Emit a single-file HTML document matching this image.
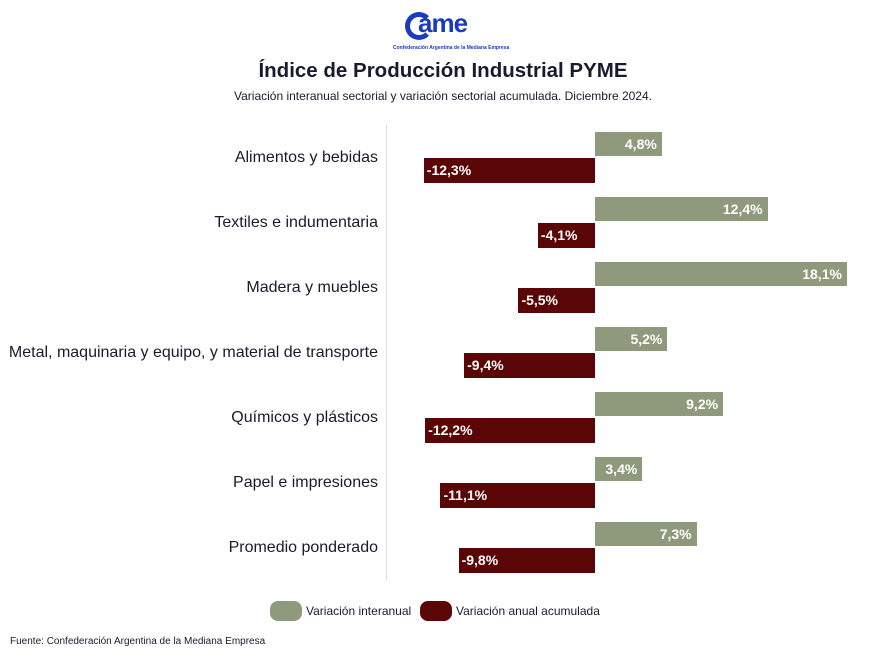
<!DOCTYPE html><html><head><meta charset="utf-8"><style>
body{margin:0;width:886px;height:658px;background:#fff;font-family:"Liberation Sans",sans-serif;position:relative;overflow:hidden}
.a{position:absolute}
.lab{position:absolute;right:508px;font-size:16px;color:#1a1a2e;white-space:nowrap;transform:translateY(-50%)}
.g{position:absolute;background:#8e9a7b;height:24px;color:#fff;font-weight:bold;font-size:14px;line-height:24px;text-align:right;box-sizing:border-box;padding-right:5px}
.r{position:absolute;background:#5a0506;height:25px;color:#fff;font-weight:bold;font-size:14px;line-height:25px;box-sizing:border-box;padding-left:3px}
</style></head><body>
<div class="a" style="left:405px;top:12px;width:28px;height:28px;border-radius:50%;border:5px solid #1a3bbf;border-right-color:transparent;box-sizing:border-box"></div>
<div class="a" style="left:418px;top:8px;font-size:26px;font-weight:bold;color:#1a3bbf;letter-spacing:-1px">ame</div>
<div class="a" style="left:393px;top:45px;font-size:5px;font-weight:bold;color:#1a3bbf">Confederación Argentina de la Mediana Empresa</div>
<div class="a" style="left:0;width:886px;top:59px;text-align:center;font-size:20.5px;font-weight:bold;color:#1a1a2e">Índice de Producción Industrial PYME</div>
<div class="a" style="left:0;width:886px;top:89px;text-align:center;font-size:12px;color:#1a1a2e">Variación interanual sectorial y variación sectorial acumulada. Diciembre 2024.</div>
<div class="a" style="left:386px;top:125px;width:1px;height:455px;background:#ddd"></div>
<div id="c"></div>
<script>
var d=[["Alimentos y bebidas",4.8,-12.3],["Textiles e indumentaria",12.4,-4.1],["Madera y muebles",18.1,-5.5],["Metal, maquinaria y equipo, y material de transporte",5.2,-9.4],["Químicos y plásticos",9.2,-12.2],["Papel e impresiones",3.4,-11.1],["Promedio ponderado",7.3,-9.8]];
var h="",s=13.92;
d.forEach(function(r,i){var y=132+65*i;
h+='<div class="lab" style="top:'+(y+26)+'px">'+r[0]+'</div>';
var w=r[1]*s;h+='<div class="g" style="left:595px;top:'+y+'px;width:'+w+'px">'+r[1].toFixed(1).replace(".",",")+'%</div>';
var w2=-r[2]*s;h+='<div class="r" style="left:'+(595-w2)+'px;top:'+(y+26)+'px;width:'+w2+'px">'+r[2].toFixed(1).replace(".",",")+'%</div>';});
document.getElementById("c").innerHTML=h;
</script>
<div class="a" style="left:270px;top:601px;width:32px;height:20px;border-radius:8px;background:#8e9a7b"></div>
<div class="a" style="left:306px;top:604px;font-size:12px;color:#1a1a2e">Variación interanual</div>
<div class="a" style="left:420px;top:601px;width:32px;height:20px;border-radius:8px;background:#5a0506"></div>
<div class="a" style="left:456px;top:604px;font-size:12px;color:#1a1a2e">Variación anual acumulada</div>
<div class="a" style="left:10px;top:636px;font-size:10px;color:#1a1a2e">Fuente: Confederación Argentina de la Mediana Empresa</div>
</body></html>
